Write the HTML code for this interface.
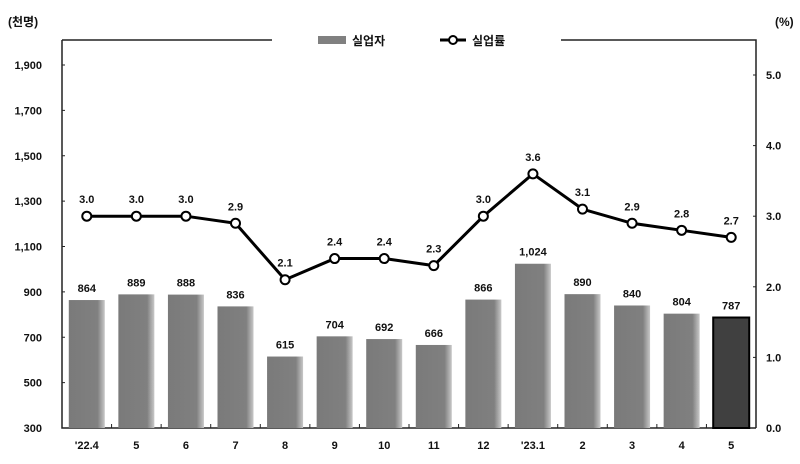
<!DOCTYPE html>
<html><head><meta charset="utf-8"><style>
body{margin:0;background:#fff;}
svg text{font-family:"Liberation Sans","Noto Sans CJK KR",sans-serif;font-weight:bold;fill:#111;}
</style></head><body>
<svg width="800" height="459" viewBox="0 0 800 459">
<defs><linearGradient id="bg" x1="0" x2="1"><stop offset="0" stop-color="#7a7a7a"/><stop offset="0.8" stop-color="#808080"/><stop offset="1" stop-color="#c8c8c8"/></linearGradient></defs>
<g id="frame"></g>
<g id="bars"></g>
<g id="line"></g>
<g id="axes"></g>
</svg>
<script>
const categories=["'22.4","5","6","7","8","9","10","11","12","'23.1","2","3","4","5"];
const unemployed=[864,889,888,836,615,704,692,666,866,1024,890,840,804,787];
const rate=[3.0,3.0,3.0,2.9,2.1,2.4,2.4,2.3,3.0,3.6,3.1,2.9,2.8,2.7];
const leftTicks=[300,500,700,900,1100,1300,1500,1700,1900];
const rightTicks=[0,1,2,3,4,5];
const NS="http://www.w3.org/2000/svg";
const L=62,R=756,T=40,B=428;
const yL=v=>428-(v-300)/1600*363;
const yR=v=>428-v/5*353;
const step=(R-L)/categories.length;
const xC=i=>L+step*(i+0.5);
function mk(tag,attrs,parent,text){const e=document.createElementNS(NS,tag);for(const k in attrs)e.setAttribute(k,attrs[k]);if(text!==undefined)e.textContent=text;document.getElementById(parent).appendChild(e);return e;}
// frame
let e;
e=mk('path',{d:`M${L} ${T} H272 M561 ${T} H${R} V${B} M${L} ${T} V${B} H${R}`,stroke:'#222','stroke-width':1.5,fill:'none'},'frame');

e=mk('text',{x:8,y:26,'font-size':12},'frame','(천명)');

e=mk('text',{x:775,y:26,'font-size':12},'frame','(%)');

e=mk('rect',{x:318,y:36,width:28,height:8,fill:'#808080'},'frame');

e=mk('text',{x:352,y:45,'font-size':12},'frame','실업자');

e=mk('line',{x1:440,y1:40,x2:466,y2:40,stroke:'#000','stroke-width':3},'frame');

e=mk('circle',{cx:453,cy:40,r:4,fill:'#fff',stroke:'#000','stroke-width':2},'frame');

e=mk('text',{x:472,y:45,'font-size':12},'frame','실업률');

// bars
const bw=36;
unemployed.forEach((v,i)=>{
  const last=i===unemployed.length-1;
  const b=mk('rect',{x:xC(i)-bw/2,y:yL(v),width:bw,height:B-yL(v),fill:last?'#404040':'url(#bg)',stroke:last?'#000':'none','stroke-width':last?2:0},'bars');
  
  
  const t=mk('text',{x:xC(i),y:yL(v)-8,'font-size':11,'text-anchor':'middle'},'bars',v.toLocaleString('en-US'));
  
  
});
// line
const pl=mk('polyline',{points:rate.map((v,i)=>xC(i)+','+yR(v)).join(' '),fill:'none',stroke:'#000','stroke-width':3},'line');


rate.forEach((v,i)=>{
  const c=mk('circle',{cx:xC(i),cy:yR(v),r:4.5,fill:'#fff',stroke:'#000','stroke-width':2},'line');
  
  
  const t=mk('text',{x:xC(i),y:yR(v)-13,'font-size':11,'text-anchor':'middle'},'line',v.toFixed(1));
  
  
});
// axes
leftTicks.forEach(v=>{
  const t=mk('text',{x:42,y:yL(v)+4,'font-size':11,'text-anchor':'end'},'axes',v.toLocaleString('en-US'));
  
  
  const l=mk('line',{x1:L,x2:L+3,y1:yL(v),y2:yL(v),stroke:'#222'},'axes');
  
  
});
rightTicks.forEach(v=>{
  const t=mk('text',{x:766,y:yR(v)+4,'font-size':11},'axes',v.toFixed(1));
  
  
  const l=mk('line',{x1:R-3,x2:R,y1:yR(v),y2:yR(v),stroke:'#222'},'axes');
  
  
});
categories.forEach((c,i)=>{
  const t=mk('text',{x:xC(i),y:449,'font-size':11,'text-anchor':'middle'},'axes',c);
  
  
  const l=mk('line',{x1:L+step*(i+1),x2:L+step*(i+1),y1:B,y2:B-4,stroke:'#222'},'axes');
  
  
});
</script>
</body></html>
